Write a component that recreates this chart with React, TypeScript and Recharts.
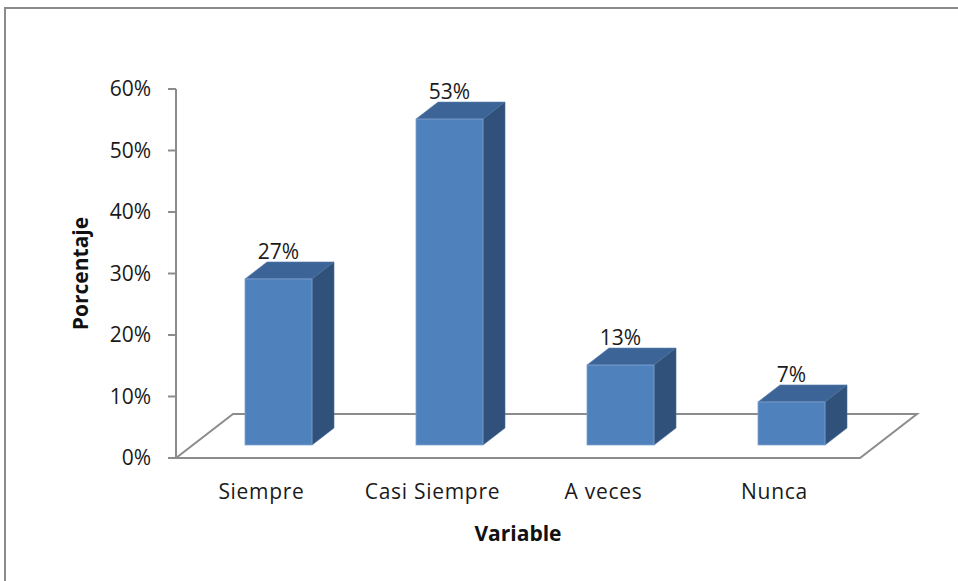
import React from 'react';
import { BarChart, Bar, XAxis, YAxis, LabelList, Customized } from 'recharts';

// Response categories and their share of answers
const categories = ['Siempre', 'Casi Siempre', 'A veces', 'Nunca'];
const percentages = [0.27, 0.53, 0.13, 0.07];
const yTicks = [0, 0.1, 0.2, 0.3, 0.4, 0.5, 0.6];

const data = categories.map((name, i) => ({ name, value: percentages[i] }));

const W = 958;
const H = 581;
const MARGIN = { top: 89, right: 98, bottom: 40, left: 56 };
const Y_AXIS_W = 120;
const X_AXIS_H = 83;

// Oblique projection: floor depth and where the bars sit inside it
const FLOOR_DX = 57;
const FLOOR_DY = -44;
const BAR_SHIFT_X = 17;
const BAR_SHIFT_Y = -13;
const BAR_DEPTH_X = 22;
const BAR_DEPTH_Y = -17;

const FRONT = '#4F81BD';
const TOP = '#3C6496';
const SIDE = '#30527A';
const EDGE = '#8C8C8C';
const FONT = '"Open Sans", "Noto Sans", sans-serif';
const TEXT = '#1A1A1A';

const pct = (v: number) => `${Math.round(v * 100)}%`;

const Floor = () => {
  const x0 = MARGIN.left + Y_AXIS_W;
  const x1 = W - MARGIN.right;
  const y0 = H - MARGIN.bottom - X_AXIS_H;
  const pts = [
    [x0, y0],
    [x0 + FLOOR_DX, y0 + FLOOR_DY],
    [x1 + FLOOR_DX, y0 + FLOOR_DY],
    [x1, y0],
  ]
    .map((p) => p.join(','))
    .join(' ');
  return (
    <g>
      <polygon points={pts} fill="none" stroke={EDGE} strokeWidth={2} strokeLinejoin="miter" />
    </g>
  );
};

const Box = (props: any) => {
  const { x, y, width, height } = props;
  if (height == null || width == null) return null;
  const fx = x + BAR_SHIFT_X;
  const fy = y + BAR_SHIFT_Y;
  const dx = BAR_DEPTH_X;
  const dy = BAR_DEPTH_Y;
  const top = `${fx},${fy} ${fx + dx},${fy + dy} ${fx + width + dx},${fy + dy} ${fx + width},${fy}`;
  const side = `${fx + width},${fy} ${fx + width + dx},${fy + dy} ${fx + width + dx},${fy + height + dy} ${fx + width},${fy + height}`;
  return (
    <g>
      <polygon points={top} fill={TOP} stroke="#5A7FB0" strokeWidth={0.6} />
      <polygon points={side} fill={SIDE} stroke="#4A6C96" strokeWidth={0.6} />
      <rect x={fx} y={fy} width={width} height={height} fill={FRONT} stroke="#7FA2CF" strokeWidth={0.8} />
    </g>
  );
};

const ValueLabel = (props: any) => {
  const { x, y, width, value } = props;
  return (
    <text
      x={x + BAR_SHIFT_X + width / 2}
      y={y + BAR_SHIFT_Y + BAR_DEPTH_Y - 3}
      textAnchor="middle"
      fontFamily={FONT}
      fontSize={21}
      fill={TEXT}
    >
      {pct(value)}
    </text>
  );
};

const CategoryTick = (props: any) => {
  const { x, payload } = props;
  const y0 = H - MARGIN.bottom - X_AXIS_H;
  return (
    <text x={x} y={y0 + 41} textAnchor="middle" fontFamily={FONT} fontSize={21} fill={TEXT} letterSpacing={0.7}>
      {payload.value}
    </text>
  );
};

export default function App() {
  return (
    <div style={{ position: 'absolute', left: 0, top: 0, width: W, height: H, overflow: 'hidden', background: '#fff' }}>
      <div
        style={{
          position: 'absolute',
          left: 4,
          top: 7,
          width: 1100,
          height: 800,
          border: '2px solid #8A8A8A',
          boxSizing: 'border-box',
        }}
      />
      <div style={{ position: 'absolute', left: 0, top: 0 }}>
        <BarChart width={W} height={H} data={data} margin={MARGIN} barCategoryGap={52}>
          <Customized component={Floor} />
          <XAxis
            dataKey="name"
            axisLine={false}
            tickLine={false}
            height={X_AXIS_H}
            interval={0}
            tick={<CategoryTick />}
            label={{
              value: 'Variable',
              position: 'insideBottom',
              offset: 0,
              style: { fontFamily: FONT, fontSize: 21, fontWeight: 700, fill: '#111' },
            }}
          />
          <YAxis
            width={Y_AXIS_W}
            domain={[0, 0.6]}
            ticks={yTicks}
            interval={0}
            tickFormatter={pct}
            axisLine={{ stroke: EDGE, strokeWidth: 2 }}
            tickLine={{ stroke: EDGE, strokeWidth: 2 }}
            tickSize={8}
            tickMargin={17}
            tick={{ fontFamily: FONT, fontSize: 21, fill: TEXT }}
            label={{
              value: 'Porcentaje',
              angle: -90,
              position: 'insideLeft',
              offset: 25,
              style: { fontFamily: FONT, fontSize: 21, fontWeight: 700, fill: '#111', textAnchor: 'middle' },
            }}
          />
          <Bar dataKey="value" shape={<Box />} isAnimationActive={false}>
            <LabelList dataKey="value" content={<ValueLabel />} />
          </Bar>
        </BarChart>
      </div>
    </div>
  );
}
